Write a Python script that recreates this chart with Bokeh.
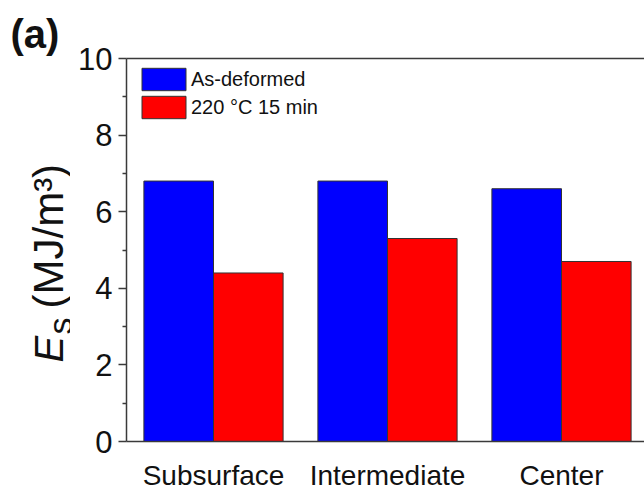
import math
from bokeh.plotting import figure
from bokeh.layouts import row
from bokeh.models import (ColumnDataSource, Range1d, LinearAxis, FixedTicker,
                          Legend, LegendItem)
from bokeh.core.properties import value
from bokeh.transform import dodge
from bokeh.embed import file_html
from bokeh.resources import INLINE

categories = ["Subsurface", "Intermediate", "Center"]
as_deformed = [6.8, 6.8, 6.6]
annealed = [4.4, 5.3, 4.7]
series_names = ["As-deformed", "220 °C 15 min"]
y_ticks = [0, 2, 4, 6, 8, 10]
y_minor = [1, 3, 5, 7, 9]
panel_tag = "(a)"

FONT = "Liberation Sans"
AX = "#3a3a3a"
TXT = "#111111"

H = 493
LW = 70  # width of the left text strip

# ---------------- left strip: panel tag and y-axis title ----------------
side = figure(width=LW, height=H, output_backend="svg", toolbar_location=None,
              title_location=None,
              x_range=Range1d(0, LW), y_range=Range1d(0, H),
              min_border=0, min_border_left=0, min_border_right=0,
              min_border_top=0, min_border_bottom=0,
              x_axis_type=None, y_axis_type=None)
side.outline_line_color = None
side.xgrid.visible = False
side.ygrid.visible = False
side.frame_align = False

side.text(x=[10], y=[H - 33], text=[panel_tag], text_font=value(FONT),
          text_font_size="40px", text_font_style="bold", text_color=TXT,
          text_align="left", text_baseline="alphabetic")

ang = math.pi / 2
side.text(x=[48], y=[H - 362], text=["E"], text_font=value(FONT),
          text_font_size="40px", text_font_style="italic", text_color=TXT,
          angle=ang, text_align="left", text_baseline="alphabetic")
side.text(x=[59], y=[H - 334], text=["s"], text_font=value(FONT),
          text_font_size="34px", text_color=TXT,
          angle=ang, text_align="left", text_baseline="alphabetic")
side.text(x=[48], y=[H - 308], text=["(MJ/m³)"], text_font=value(FONT),
          text_font_size="42px", text_color=TXT,
          angle=ang, text_align="left", text_baseline="alphabetic")

# ---------------- main chart ----------------
positions = list(range(len(categories)))
src = ColumnDataSource(dict(x=positions, a=as_deformed, b=annealed))

p = figure(width=644 - LW, height=H, output_backend="svg", toolbar_location=None,
           title_location=None,
           x_range=Range1d(-0.5, 2.477), y_range=Range1d(0, 10),
           min_border_left=56, min_border_right=0, min_border_top=58,
           min_border_bottom=47, x_axis_type=None, y_axis_type=None)
p.outline_line_color = None
p.xgrid.visible = False
p.ygrid.visible = False
p.frame_align = False

r1 = p.vbar(x=dodge("x", -0.2), top="a", width=0.4, source=src,
            fill_color="#0000FF", line_color="#333333", line_width=1)
r2 = p.vbar(x=dodge("x", 0.2), top="b", width=0.4, source=src,
            fill_color="#FF0000", line_color="#333333", line_width=1)

ya = LinearAxis(ticker=FixedTicker(ticks=y_ticks, minor_ticks=y_minor))
ya.axis_line_color = AX
ya.axis_line_width = 1.5
ya.major_tick_line_color = AX
ya.major_tick_line_width = 1.5
ya.minor_tick_line_color = AX
ya.minor_tick_line_width = 1.5
ya.major_tick_out = 8
ya.major_tick_in = 0
ya.minor_tick_out = 4
ya.minor_tick_in = 0
ya.major_label_text_font = FONT
ya.major_label_text_font_size = "31px"
ya.major_label_text_color = TXT
ya.major_label_standoff = 6
p.add_layout(ya, "left")

xa = LinearAxis(ticker=FixedTicker(ticks=positions, minor_ticks=[]))
xa.major_label_overrides = {i: c for i, c in zip(positions, categories)}
xa.axis_line_color = AX
xa.axis_line_width = 1.5
xa.major_tick_line_color = None
xa.minor_tick_line_color = None
xa.major_label_text_font = FONT
xa.major_label_text_font_size = "28px"
xa.major_label_text_color = TXT
xa.major_label_standoff = 12
p.add_layout(xa, "below")

ta = LinearAxis(ticker=FixedTicker(ticks=[]))
ta.axis_line_color = AX
ta.axis_line_width = 1.5
ta.major_tick_line_color = None
ta.minor_tick_line_color = None
ta.major_label_text_font_size = "0px"
p.add_layout(ta, "above")

legend = Legend(items=[LegendItem(label=series_names[0], renderers=[r1]),
                       LegendItem(label=series_names[1], renderers=[r2])])
legend.location = (10, 320)
legend.margin = 0
legend.padding = 0
legend.spacing = 0
legend.glyph_width = 55
legend.glyph_height = 28
legend.label_standoff = 0
legend.label_text_font = FONT
legend.label_text_font_size = "20px"
legend.label_text_color = TXT
legend.border_line_color = None
legend.background_fill_alpha = 0
p.add_layout(legend, "center")

layout = row(side, p, spacing=0)
open("out.html", "w").write(file_html(layout, INLINE))
